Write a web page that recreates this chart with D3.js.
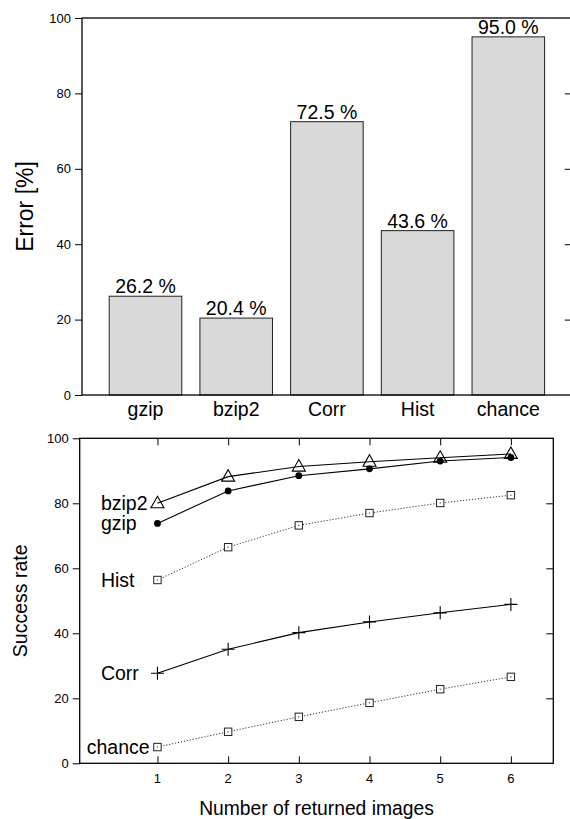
<!DOCTYPE html>
<html>
<head>
<meta charset="utf-8">
<script src="https://cdn.jsdelivr.net/npm/d3@7"></script>
<style>
  body { margin: 0; background: #fff; }
  svg { display: block; font-family: "Liberation Sans", Arial, sans-serif; }
</style>
</head>
<body>
<svg id="chart" width="570" height="819"></svg>
<script>
// top chart: error per method
const methods = ["gzip", "bzip2", "Corr", "Hist", "chance"];
const errors = [26.2, 20.4, 72.5, 43.6, 95.0];
const errorTicks = [0, 20, 40, 60, 80, 100];

// bottom chart: success rate vs number of returned images
const returned = [1, 2, 3, 4, 5, 6];
const bzip2Rate = [80.0, 88.2, 91.3, 92.8, 94.0, 95.2];
const gzipRate = [73.8, 83.8, 88.5, 90.6, 93.0, 94.1];
const histRate = [56.4, 66.5, 73.2, 77.0, 80.1, 82.5];
const corrRate = [27.7, 35.1, 40.2, 43.5, 46.3, 48.9];
const chanceRate = [5.0, 9.7, 14.3, 18.6, 22.8, 26.6];
const rateTicks = [0, 20, 40, 60, 80, 100];

const svg = d3.select("#chart");
const tickLen = 7;

// ---------- bar chart ----------
const barG = svg.append("g");
const xb = d3.scaleLinear().domain([-0.7, 4.7]).range([82, 571.8]);
const yb = d3.scaleLinear().domain([0, 100]).range([395, 18]);
const barW = xb(0.8) - xb(0);

barG.selectAll("rect.bar")
  .data(errors)
  .enter()
  .append("rect")
  .attr("class", "bar")
  .attr("x", (d, i) => xb(i) - barW / 2)
  .attr("y", d => yb(d))
  .attr("width", barW)
  .attr("height", d => yb(0) - yb(d))
  .attr("fill", "#d9d9d9")
  .attr("stroke", "#222")
  .attr("stroke-width", 1);

barG.selectAll("text.val")
  .data(errors)
  .enter()
  .append("text")
  .attr("x", (d, i) => xb(i))
  .attr("y", d => yb(d) - 3)
  .attr("text-anchor", "middle")
  .attr("font-size", 19.5)
  .text(d => d.toFixed(1) + " %");

// frame
barG.append("rect")
  .attr("x", xb.range()[0]).attr("y", yb(100))
  .attr("width", xb.range()[1] - xb.range()[0])
  .attr("height", yb(0) - yb(100))
  .attr("fill", "none").attr("stroke", "#000").attr("stroke-width", 1.3);

barG.append("g")
  .attr("transform", `translate(${xb.range()[0]},0)`)
  .call(d3.axisLeft(yb).tickValues(errorTicks).tickSize(tickLen).tickPadding(4))
  .call(g => g.select(".domain").remove())
  .call(g => g.selectAll("text").attr("font-size", 13).attr("font-family", "Liberation Sans, Arial, sans-serif"));

barG.append("g")
  .attr("transform", `translate(${xb.range()[1]},0)`)
  .call(d3.axisLeft(yb).tickValues(errorTicks.slice(1, -1)).tickSize(tickLen).tickFormat(""))
  .call(g => g.select(".domain").remove());

barG.selectAll("text.cat")
  .data(methods)
  .enter()
  .append("text")
  .attr("x", (d, i) => xb(i))
  .attr("y", 416)
  .attr("text-anchor", "middle")
  .attr("font-size", 19.5)
  .text(d => d);

barG.append("text")
  .attr("transform", `translate(33,${(yb(0) + yb(100)) / 2}) rotate(-90)`)
  .attr("text-anchor", "middle")
  .attr("font-size", 23)
  .text("Error [%]");

// ---------- line chart ----------
const lineG = svg.append("g");
const xl = d3.scaleLinear().domain([-0.1, 6.6]).range([79.7, 553.3]);
const yl = d3.scaleLinear().domain([0, 100]).range([763.3, 438.3]);

lineG.append("rect")
  .attr("x", xl.range()[0]).attr("y", yl(100))
  .attr("width", xl.range()[1] - xl.range()[0])
  .attr("height", yl(0) - yl(100))
  .attr("fill", "none").attr("stroke", "#000").attr("stroke-width", 1.3);

lineG.append("g")
  .attr("transform", `translate(${xl.range()[0]},0)`)
  .call(d3.axisLeft(yl).tickValues(rateTicks).tickSize(tickLen).tickPadding(4))
  .call(g => g.select(".domain").remove())
  .call(g => g.selectAll("text").attr("font-size", 13).attr("font-family", "Liberation Sans, Arial, sans-serif"));

lineG.append("g")
  .attr("transform", `translate(${xl.range()[1]},0)`)
  .call(d3.axisLeft(yl).tickValues(rateTicks.slice(1, -1)).tickSize(tickLen).tickFormat(""))
  .call(g => g.select(".domain").remove());

lineG.append("g")
  .attr("transform", `translate(0,${yl(0)})`)
  .call(d3.axisTop(xl).tickValues(returned).tickSize(tickLen).tickFormat(""))
  .call(g => g.select(".domain").remove());

lineG.append("g")
  .attr("transform", `translate(0,${yl(100)})`)
  .call(d3.axisBottom(xl).tickValues(returned).tickSize(tickLen).tickFormat(""))
  .call(g => g.select(".domain").remove());

lineG.selectAll("text.xt")
  .data(returned)
  .enter()
  .append("text")
  .attr("x", d => xl(d))
  .attr("y", 783)
  .attr("text-anchor", "middle")
  .attr("font-size", 13)
  .text(d => d);

const series = [
  { name: "bzip2", values: bzip2Rate, marker: "triangle", dash: null, labelX: 0.2 },
  { name: "gzip", values: gzipRate, marker: "dot", dash: null, labelX: 0.2 },
  { name: "Hist", values: histRate, marker: "square", dash: "1.2,1.8", labelX: 0.2 },
  { name: "Corr", values: corrRate, marker: "plus", dash: null, labelX: 0.2 },
  { name: "chance", values: chanceRate, marker: "square", dash: "1.2,1.8", labelX: 0 }
];

const line = d3.line()
  .x((d, i) => xl(returned[i]))
  .y(d => yl(d));

series.forEach(s => {
  const g = lineG.append("g");
  g.append("path")
    .attr("d", line(s.values))
    .attr("fill", "none")
    .attr("stroke", s.dash ? "#333" : "#000")
    .attr("stroke-width", s.dash ? 1 : 1.1)
    .attr("stroke-dasharray", s.dash);

  const pts = g.selectAll("g.pt")
    .data(s.values)
    .enter()
    .append("g")
    .attr("transform", (d, i) => `translate(${xl(returned[i])},${yl(d)})`);

  if (s.marker === "triangle") {
    pts.append("path")
      .attr("d", "M0,-7L6.5,4.5L-6.5,4.5Z")
      .attr("fill", "none").attr("stroke", "#000").attr("stroke-width", 1.1);
  } else if (s.marker === "dot") {
    pts.append("circle").attr("r", 3.4).attr("fill", "#000");
  } else if (s.marker === "square") {
    pts.append("rect")
      .attr("x", -3.7).attr("y", -3.7).attr("width", 7.4).attr("height", 7.4)
      .attr("fill", "#fff").attr("stroke", "#222").attr("stroke-width", 1);
    pts.append("rect")
      .attr("x", -0.6).attr("y", -0.6).attr("width", 1.2).attr("height", 1.2)
      .attr("fill", "#444");
  } else if (s.marker === "plus") {
    pts.append("path")
      .attr("d", "M-6.5,0H6.5M0,-6.5V6.5")
      .attr("stroke", "#000").attr("stroke-width", 1.1);
  }

  g.append("text")
    .attr("x", xl(s.labelX))
    .attr("y", yl(s.values[0]))
    .attr("dy", "0.35em")
    .attr("font-size", 19.5)
    .text(s.name);
});

lineG.append("text")
  .attr("transform", `translate(27,${(yl(0) + yl(100)) / 2}) rotate(-90)`)
  .attr("text-anchor", "middle")
  .attr("font-size", 19.5)
  .text("Success rate");

lineG.append("text")
  .attr("x", (xl.range()[0] + xl.range()[1]) / 2)
  .attr("y", 815)
  .attr("text-anchor", "middle")
  .attr("font-size", 19.3)
  .text("Number of returned images");
</script>
</body>
</html>
